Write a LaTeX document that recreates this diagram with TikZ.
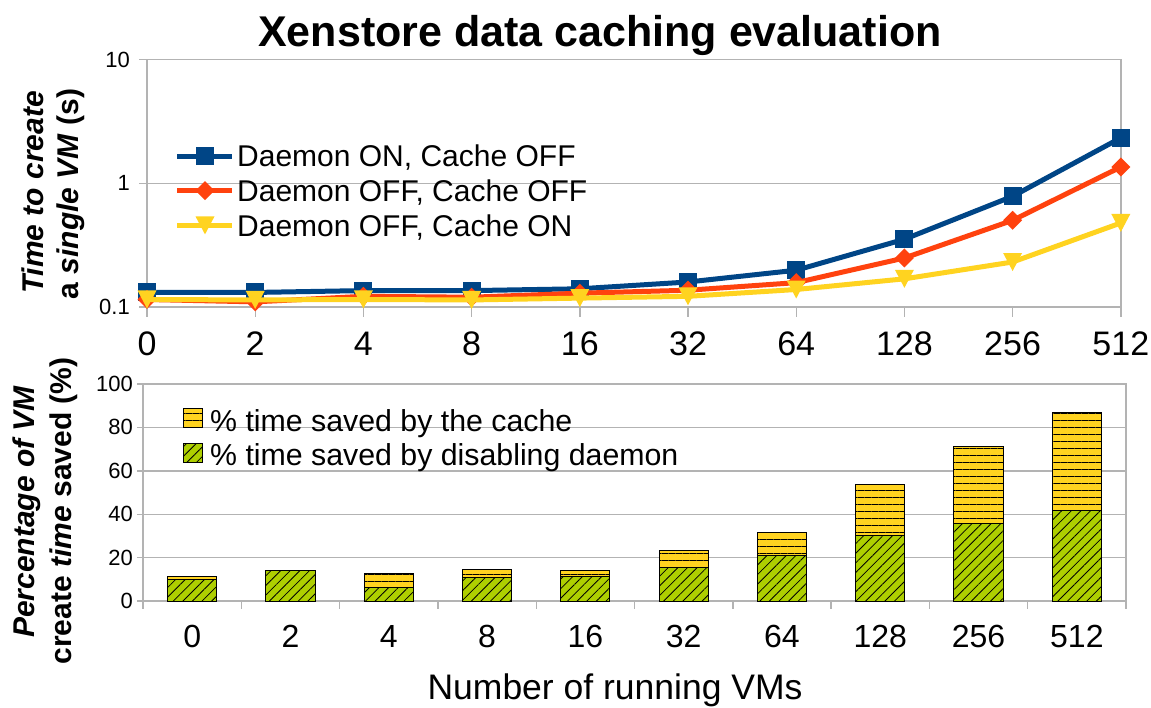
\documentclass[tikz,border=0pt]{standalone}
\usepackage{fontspec}
\setmainfont{Liberation Sans}
\usetikzlibrary{patterns.meta}
\definecolor{onblue}{HTML}{004586}
\definecolor{offred}{HTML}{FF420E}
\definecolor{cacheyellow}{HTML}{FFD320}
\definecolor{daemongreen}{HTML}{AECF00}
\definecolor{gridgray}{HTML}{B3B3B3}
\tikzset{gridline/.style={draw=gridgray, line width=1.4pt},
series/.style={line width=5pt, line join=round},
barbox/.style={draw=black, line width=1pt},
cachebar/.style={barbox, preaction={fill=cacheyellow}, pattern={Lines[angle=0, distance=7pt, line width=0.9pt]}, pattern color=black},
daemonbar/.style={barbox, preaction={fill=daemongreen}, pattern={Lines[angle=45, distance=6.8pt, line width=0.8pt]}, pattern color=black},
ticklabel/.style={font=\fontsize{22}{26}\selectfont, inner sep=0pt},
catlabel/.style={font=\fontsize{#1}{36}\selectfont, inner sep=0pt},
legendtext/.style={font=\fontsize{#1}{34}\selectfont, inner sep=0pt, anchor=base west},
axistitle/.style={font=\fontsize{30}{34}\selectfont\bfseries, inner sep=0pt, rotate=90, anchor=base},
%markers, 18px wide
sqmark/.pic={\fill (-9pt,-9pt) rectangle (9pt,9pt);},
diamark/.pic={\fill (0,9.5pt) -- (9.5pt,0) -- (0,-9.5pt) -- (-9.5pt,0) -- cycle;},
trimark/.pic={\fill (0,-9pt) -- (9.5pt,9pt) -- (-9.5pt,9pt) -- cycle;}}
\begin{document}
\begin{tikzpicture}[x=1pt, y=-1pt]
\useasboundingbox (0,0) rectangle (1151,707);
\node[font=\fontsize{43}{48}\selectfont\bfseries, anchor=base, inner sep=0pt] (title) at (600,46.7) {Xenstore data caching evaluation};

% time per VM, log scale (one unit = one decade above 0.1)
\begin{scope}[shift={(147,307)}, x=108.2pt, y=123.7pt]
\draw[gridline] (0,0) rectangle (9,2);
\draw[gridline] (0,1) -- (9,1);
\foreach \i/\n in {0/0,1/2,2/4,3/8,4/16,5/32,6/64,7/128,8/256,9/512}
  {\draw[gridline] (\i,0) -- ++(0,-10pt);
   \node[catlabel=34, yshift=-37pt] (topx\i) at (\i,0) {\n};}
\foreach \v/\t in {0/0.1,1/1,2/10}
  {\draw[gridline] (0,\v) -- ++(-8pt,0);
   \node[ticklabel, anchor=east, xshift=-17pt] (topy\v) at (0,\v) {\t};}

\def\daemonon{0/0.128,1/0.128,2/0.133,3/0.133,4/0.138,5/0.158,6/0.198,7/0.353,8/0.785,9/2.33}
\def\cacheoff{0/0.115,1/0.110,2/0.122,3/0.120,4/0.126,5/0.134,6/0.156,7/0.249,8/0.502,9/1.355}
\def\cacheon{0/0.115,1/0.114,2/0.115,3/0.114,4/0.118,5/0.122,6/0.136,7/0.168,8/0.231,9/0.478}

\draw[series, onblue] (0,{log10(0.128)+1}) \foreach \i/\v in \daemonon { -- (\i,{log10(\v)+1}) };
\foreach \i/\v in \daemonon \pic[onblue] at (\i,{log10(\v)+1}) {sqmark};
\draw[series, offred] (0,{log10(0.115)+1}) \foreach \i/\v in \cacheoff { -- (\i,{log10(\v)+1}) };
\foreach \i/\v in \cacheoff \pic[offred] at (\i,{log10(\v)+1}) {diamark};
\draw[series, cacheyellow] (0,{log10(0.115)+1}) \foreach \i/\v in \cacheon { -- (\i,{log10(\v)+1}) };
\foreach \i/\v in \cacheon \pic[cacheyellow] at (\i,{log10(\v)+1}) {trimark};
\end{scope}

% legend of the lines
\foreach \c/\m/\t [count=\k] in {onblue/sqmark/{Daemon ON, Cache OFF},offred/diamark/{Daemon OFF, Cache OFF},cacheyellow/trimark/{Daemon OFF, Cache ON}}
  {\draw[series, \c] (177,121.3+34.7*\k) -- (232,121.3+34.7*\k);
   \pic[\c] at (205,121.3+34.7*\k) {\m};
   \node[legendtext=30] (lineleg\k) at (237,132+34.7*\k) {\t};}

% saved time, stacked bars
\begin{scope}[shift={(143,601)}, x=98.3pt, y=2.17pt]
\foreach \v in {20,40,60,80} \draw[gridline] (0,\v) -- (10,\v);
\draw[gridline] (0,0) rectangle (10,100);
\foreach \k in {0,...,10} \draw[gridline] (\k,0) -- ++(0,-8pt);
\foreach \v in {0,20,...,100}
  {\draw[gridline] (0,\v) -- ++(-6pt,0);
   \node[ticklabel, anchor=east, xshift=-10pt] (boty\v) at (0,\v) {\v};}
\foreach \i/\n/\d/\t in {0/0/10.0/11.4,1/2/13.9/14.1,2/4/6.4/12.6,3/8/10.9/14.6,4/16/11.4/14.1,5/32/15.5/23.2,6/64/21.0/31.8,7/128/30.4/53.5,8/256/35.8/71.3,9/512/41.8/87.0}
  {\draw[cachebar] ({\i+0.25},\d) rectangle ({\i+0.75},\t);
   \draw[daemonbar] ({\i+0.25},0) rectangle ({\i+0.75},\d);
   \node[catlabel=32, yshift=-35pt] (botx\i) at ({\i+0.5},0) {\n};}
\end{scope}

% legend of the bars
\draw[cachebar] (183,408) rectangle (202,427);
\node[legendtext=30.3] (barleg1) at (210,431.7) {\% time saved by the cache};
\draw[daemonbar] (183,443) rectangle (202,462);
\node[legendtext=30.3] (barleg2) at (210,465) {\% time saved by disabling daemon};

% axis titles
\node[axistitle] (ytime1) at (43,192.5) {\itshape Time to create};
\node[axistitle] (ytime2) at (78.5,194) {a \textit{single VM} (s)};
\node[axistitle] (ysave1) at (34.5,512) {\itshape Percentage of VM};
\node[axistitle] (ysave2) at (71.5,511) {create \textit{time} saved (\%)};
\node[font=\fontsize{35.5}{40}\selectfont, anchor=base, inner sep=0pt] (xtitle) at (615,699) {Number of running VMs};
\end{tikzpicture}
\end{document}
